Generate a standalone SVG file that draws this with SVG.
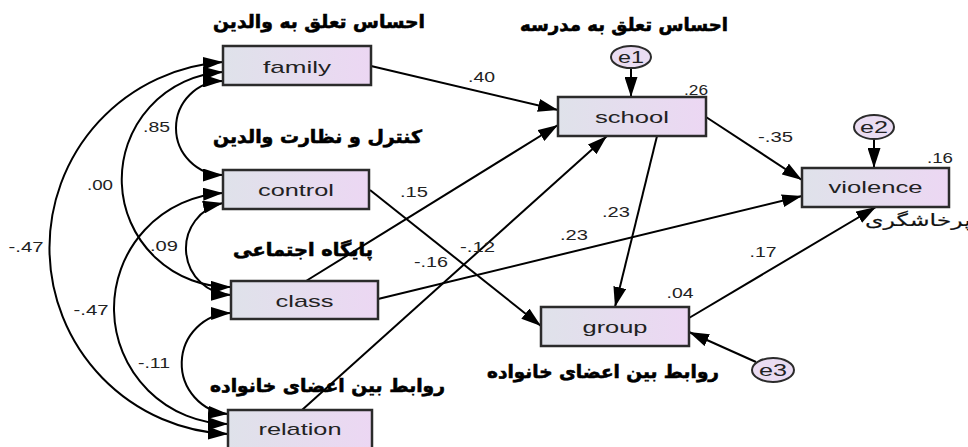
<svg xmlns="http://www.w3.org/2000/svg" width="968" height="447" viewBox="0 0 968 447">
<defs>
<linearGradient id="g" x1="0" y1="0" x2="1" y2="0">
<stop offset="0" stop-color="#dfe2ea"/>
<stop offset="1" stop-color="#ecd7f3"/>
</linearGradient>
<marker id="ah" viewBox="0 0 20 13" refX="20" refY="6.5" markerWidth="20" markerHeight="13" markerUnits="userSpaceOnUse" orient="auto-start-reverse">
<path d="M0,0 L20,6.5 L0,13 z" fill="#000"/>
</marker>
<style>
.box{fill:url(#g);stroke:#2b2b2b;stroke-width:2.5}
.err{fill:#eadcf2;stroke:#2b2b2b;stroke-width:2}
.lbl{font-family:"Liberation Sans",Arial,sans-serif;font-size:17px;fill:#222;text-anchor:middle}
.num{font-family:"Liberation Sans",Arial,sans-serif;font-size:14.5px;fill:#222;text-anchor:middle}
.fa{font-family:"DejaVu Sans",sans-serif;font-weight:bold;font-size:18px;fill:#000;stroke:#000;stroke-width:0.6;text-anchor:middle}
.fa2{font-family:"DejaVu Sans",sans-serif;font-size:17px;fill:#111;stroke:#111;stroke-width:0.2;text-anchor:middle}
.c{fill:none;stroke:#000;stroke-width:2}
.a{marker-end:url(#ah)}
.d{marker-start:url(#ah);marker-end:url(#ah)}
</style>
</defs>
<rect width="968" height="447" fill="#fff"/>

<g id="connectors">
<path class="c d" d="M223,62 A186.3,186.3 0 0 0 228,434"/>
<path class="c d" d="M223,72 A107.6,107.6 0 0 0 231,287"/>
<path class="c d" d="M223,81 A47,47 0 0 0 223,175"/>
<path class="c d" d="M223,193 A115.6,115.6 0 0 0 228,424"/>
<path class="c d" d="M223,203 A46.5,46.5 0 0 0 231,295"/>
<path class="c d" d="M231,313 A50.6,50.6 0 0 0 228,414"/>
<path class="c a" d="M371,66 L558,110"/>
<path class="c a" d="M370,190 L541,326"/>
<path class="c a" d="M306,281 L558,125"/>
<path class="c a" d="M302,410 L607,136"/>
<path class="c a" d="M378,299 L802,196"/>
<path class="c a" d="M706,117 L802,180"/>
<path class="c a" d="M657,136 L615,307"/>
<path class="c a" d="M689,318 L876,207"/>
<path class="c a" d="M756,362 L689,332"/>
<path class="c a" d="M631,68 L631,97"/>
<path class="c a" d="M874,139 L874,168"/>
</g>

<g id="labels">
<text class="num" x="481.5" y="82" textLength="27" lengthAdjust="spacingAndGlyphs">.40</text>
<text class="num" x="696" y="94.5" textLength="24" lengthAdjust="spacingAndGlyphs">.26</text>
<text class="num" x="156.5" y="132" textLength="27" lengthAdjust="spacingAndGlyphs">.85</text>
<text class="num" x="100" y="190" textLength="26" lengthAdjust="spacingAndGlyphs">.00</text>
<text class="num" x="414" y="196.5" textLength="28" lengthAdjust="spacingAndGlyphs">.15</text>
<text class="num" x="26" y="251.5" textLength="35" lengthAdjust="spacingAndGlyphs">-.47</text>
<text class="num" x="164" y="250.5" textLength="28" lengthAdjust="spacingAndGlyphs">.09</text>
<text class="num" x="91" y="315" textLength="35" lengthAdjust="spacingAndGlyphs">-.47</text>
<text class="num" x="154" y="368" textLength="32" lengthAdjust="spacingAndGlyphs">-.11</text>
<text class="num" x="431" y="266.5" textLength="34" lengthAdjust="spacingAndGlyphs">-.16</text>
<text class="num" x="477.5" y="251.5" textLength="35" lengthAdjust="spacingAndGlyphs">-.12</text>
<text class="num" x="616" y="216.5" textLength="28" lengthAdjust="spacingAndGlyphs">.23</text>
<text class="num" x="574" y="240" textLength="28" lengthAdjust="spacingAndGlyphs">.23</text>
<text class="num" x="775.5" y="141.5" textLength="35" lengthAdjust="spacingAndGlyphs">-.35</text>
<text class="num" x="940" y="162.5" textLength="26" lengthAdjust="spacingAndGlyphs">.16</text>
<text class="num" x="763" y="256.5" textLength="27" lengthAdjust="spacingAndGlyphs">.17</text>
<text class="num" x="680" y="298" textLength="27" lengthAdjust="spacingAndGlyphs">.04</text>
</g>

<g id="family">
<rect class="box" x="223" y="46" width="148" height="39"/>
<text class="lbl" x="297" y="73" textLength="68" lengthAdjust="spacingAndGlyphs">family</text>
<text class="fa" x="319" y="28" textLength="212" lengthAdjust="spacingAndGlyphs">احساس تعلق به والدین</text>
</g>
<g id="control">
<rect class="box" x="223" y="170" width="146" height="39"/>
<text class="lbl" x="296" y="195.5" textLength="76" lengthAdjust="spacingAndGlyphs">control</text>
<text class="fa" x="317.5" y="143" textLength="209" lengthAdjust="spacingAndGlyphs">کنترل و نظارت والدین</text>
</g>
<g id="class">
<rect class="box" x="231" y="281" width="147" height="38"/>
<text class="lbl" x="304.5" y="307" textLength="58" lengthAdjust="spacingAndGlyphs">class</text>
<text class="fa" x="303" y="256" textLength="140" lengthAdjust="spacingAndGlyphs">پایگاه اجتماعی</text>
</g>
<g id="relation">
<rect class="box" x="228" y="410" width="144" height="39"/>
<text class="lbl" x="300" y="435" textLength="83" lengthAdjust="spacingAndGlyphs">relation</text>
<text class="fa" x="327.5" y="392" textLength="235" lengthAdjust="spacingAndGlyphs">روابط بین اعضای خانواده</text>
</g>
<g id="school">
<rect class="box" x="558" y="97" width="148" height="39"/>
<text class="lbl" x="632" y="122.5" textLength="74" lengthAdjust="spacingAndGlyphs">school</text>
<text class="fa" x="624" y="31" textLength="208" lengthAdjust="spacingAndGlyphs">احساس تعلق به مدرسه</text>
</g>
<g id="violence">
<rect class="box" x="802" y="168" width="147" height="39"/>
<text class="lbl" x="875.5" y="193" textLength="94" lengthAdjust="spacingAndGlyphs">violence</text>
<text class="fa2" x="918" y="226" textLength="106" lengthAdjust="spacingAndGlyphs">پرخاشگری</text>
</g>
<g id="group">
<rect class="box" x="541" y="307" width="148" height="39"/>
<text class="lbl" x="615" y="333" textLength="65" lengthAdjust="spacingAndGlyphs">group</text>
<text class="fa" x="603" y="378" textLength="232" lengthAdjust="spacingAndGlyphs">روابط بین اعضای خانواده</text>
</g>
<g id="e1">
<ellipse class="err" cx="631" cy="57" rx="20" ry="11"/>
<text class="lbl" x="631" y="63" textLength="26" lengthAdjust="spacingAndGlyphs">e1</text>
</g>
<g id="e2">
<ellipse class="err" cx="874" cy="127" rx="20" ry="12"/>
<text class="lbl" x="874" y="133" textLength="28" lengthAdjust="spacingAndGlyphs">e2</text>
</g>
<g id="e3">
<ellipse class="err" cx="773" cy="370" rx="21" ry="12"/>
<text class="lbl" x="773" y="376" textLength="28" lengthAdjust="spacingAndGlyphs">e3</text>
</g>
</svg>
